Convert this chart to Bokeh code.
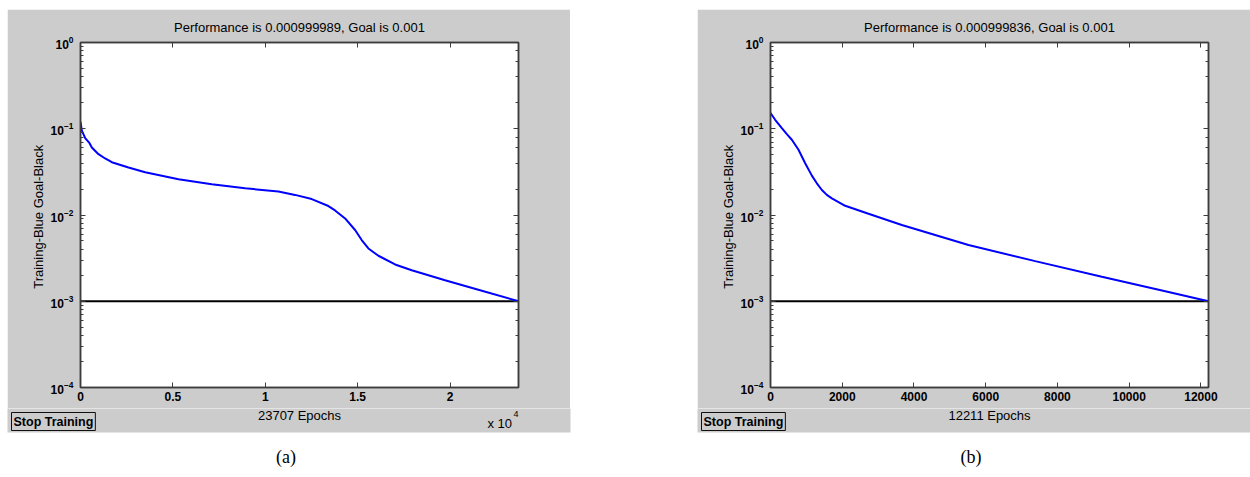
from bokeh.plotting import figure
from bokeh.models import LinearAxis, LogAxis, FixedTicker, Label, Spacer, Range1d
from bokeh.layouts import row, column
from bokeh.embed import file_html
from bokeh.resources import INLINE

# ---------------- data ----------------
# panel (a)
a_epochs = [0, 74, 254, 490, 613, 974, 1334, 1695, 2597, 3500, 5303, 7106, 8910,
            10712, 11614, 12516, 13418, 13778, 14321, 14862, 15220, 15583, 16124,
            17026, 17928, 19731, 21533, 23707]
a_perf = [0.12, 0.095, 0.078, 0.068, 0.0607, 0.0507, 0.0452, 0.0409, 0.0355, 0.0313,
          0.0259, 0.0227, 0.0204, 0.0187, 0.0171, 0.0153, 0.0127, 0.0113, 0.00912,
          0.0067, 0.00512, 0.00409, 0.00337, 0.00267, 0.00229, 0.00175, 0.00136,
          0.000999989]
a_total_epochs = 23707
a_title = "Performance is 0.000999989, Goal is 0.001"
a_xlabel = "23707 Epochs"
a_xticks = [0, 5000, 10000, 15000, 20000]
a_xticklabels = ["0", "0.5", "1", "1.5", "2"]

# panel (b)
b_epochs = [0, 130, 316, 455, 595, 781, 967, 1153, 1292, 1432, 1570, 1711, 2082,
            2732, 3661, 5520, 7379, 9237, 11096, 12211]
b_perf = [0.152, 0.127, 0.1017, 0.0865, 0.0745, 0.057, 0.0398, 0.0286, 0.0233,
          0.0195, 0.0171, 0.0156, 0.0128, 0.01035, 0.00766, 0.00448, 0.00292,
          0.00192, 0.00128, 0.000999836]
b_total_epochs = 12211
b_title = "Performance is 0.000999836, Goal is 0.001"
b_xlabel = "12211 Epochs"
b_xticks = [0, 2000, 4000, 6000, 8000, 10000, 12000]
b_xticklabels = ["0", "2000", "4000", "6000", "8000", "10000", "12000"]

goal = 0.001
y_label = "Training-Blue  Goal-Black"
button_text = "Stop Training"
panel_labels = ["(a)", "(b)"]

GRAY = "#cccccc"
AXC = "#3c3c3c"
FONT = "Liberation Sans"

# layout geometry (pixels)
PAGE_W = 1250
TOP_PAD, LEFT_PAD, GAP = 9, 7, 127
BL, FW, FH, BT, BB = 73, 438, 345, 33, 21
BR_A, BR_B = 52, 42
WA = BL + FW + BR_A
WB = BL + FW + BR_B
MAIN_BOTTOM = TOP_PAD + BT + FH + BB
STRIP_H = 24
BOTTOM_H = 64


def style_axis(ax, labels=True, minor=False, standoff=5):
    ax.axis_line_color = AXC
    ax.axis_line_width = 1.5
    ax.major_tick_line_color = AXC
    ax.major_tick_in = 5
    ax.major_tick_out = 0
    if minor:
        ax.minor_tick_line_color = AXC
        ax.minor_tick_in = 3
        ax.minor_tick_out = 0
    else:
        ax.minor_tick_line_color = None
    ax.major_label_text_font = FONT
    ax.major_label_text_font_style = "bold"
    if labels:
        ax.major_label_text_color = "black"
        ax.major_label_text_font_size = "12px"
        ax.major_label_standoff = standoff
    else:
        ax.major_label_text_color = None
        ax.major_label_text_font_size = "1px"
        ax.major_label_standoff = 0


def make_panel(xs, ys, xmax, xticks, xticklabels, title, right_b):
    p = figure(frame_width=FW, frame_height=FH, y_axis_type="log",
               x_range=Range1d(0, xmax), y_range=Range1d(1e-4, 1),
               output_backend="svg", toolbar_location=None,
               min_border_left=BL, min_border_right=right_b,
               min_border_top=BT, min_border_bottom=BB,
               title=title)
    p.border_fill_color = GRAY
    p.background_fill_color = "white"
    p.outline_line_color = AXC
    p.outline_line_width = 1.5
    p.xgrid.visible = False
    p.ygrid.visible = False

    p.title.text_font = FONT
    p.title.text_font_size = "13px"
    p.title.text_font_style = "normal"
    p.title.text_color = "black"
    p.title.align = "center"
    p.title.standoff = 15

    p.xaxis.ticker = FixedTicker(ticks=xticks)
    p.xaxis.major_label_overrides = {t: l for t, l in zip(xticks, xticklabels)}
    style_axis(p.xaxis[0], standoff=4)
    style_axis(p.yaxis[0], minor=True, standoff=7)
    p.yaxis.axis_label = y_label
    p.yaxis.axis_label_text_font = FONT
    p.yaxis.axis_label_text_font_size = "13px"
    p.yaxis.axis_label_text_font_style = "normal"
    p.yaxis.axis_label_text_color = "black"
    p.yaxis.axis_label_standoff = 2

    top = LinearAxis(ticker=FixedTicker(ticks=xticks))
    style_axis(top, labels=False)
    p.add_layout(top, "above")
    right = LogAxis()
    style_axis(right, labels=False, minor=True)
    p.add_layout(right, "right")

    p.line([0, xmax], [goal, goal], line_color="black", line_width=2)
    p.line(xs, ys, line_color="#0000ff", line_width=2)
    return p


pa = make_panel(a_epochs, a_perf, a_total_epochs, a_xticks, a_xticklabels, a_title, BR_A)
pb = make_panel(b_epochs, b_perf, b_total_epochs, b_xticks, b_xticklabels, b_title, BR_B)

# bottom figure: page-pixel coordinates (x left->right, y top->down)
y0 = MAIN_BOTTOM
bot = figure(width=PAGE_W, height=BOTTOM_H, x_range=Range1d(0, PAGE_W),
             y_range=Range1d(y0 + BOTTOM_H, y0),
             output_backend="svg", toolbar_location=None, min_border=0,
             x_axis_location=None, y_axis_location=None)
bot.outline_line_color = None
bot.xgrid.visible = False
bot.ygrid.visible = False

xa0 = LEFT_PAD
xb0 = LEFT_PAD + WA + GAP
bot.quad(left=[xa0, xb0], right=[xa0 + WA, xb0 + WB],
         top=[y0 - 3, y0 - 3], bottom=[y0 + STRIP_H, y0 + STRIP_H],
         fill_color=GRAY, line_color=None)

for x0, xl in zip([xa0, xb0], [a_xlabel, b_xlabel]):
    bot.add_layout(Label(x=x0 + BL + FW / 2, y=y0 + 7, text=xl, text_font=FONT,
                         text_font_size="13px", text_align="center",
                         text_baseline="middle", text_color="black"))
    bot.add_layout(Label(x=x0 + 4, y=y0 + 13, text=button_text, text_font=FONT,
                         text_font_style="bold", text_font_size="12.5px",
                         text_align="left", text_baseline="middle",
                         text_color="black",
                         background_fill_color=GRAY,
                         border_line_color="#101010", border_line_width=1,
                         padding=2))

bot.add_layout(Label(x=xa0 + 480, y=y0 + 15, text="x 10", text_font=FONT,
                     text_font_size="13px", text_align="left", text_baseline="middle",
                     text_color="black"))
bot.add_layout(Label(x=xa0 + 506, y=y0 + 5, text="4", text_font=FONT,
                     text_font_size="9px", text_align="left", text_baseline="middle",
                     text_color="black"))

for x0, w, t in zip([xa0, xb0], [WA, WB], panel_labels):
    bot.add_layout(Label(x=x0 + w / 2 - 3, y=y0 + 48, text=t,
                         text_font="Liberation Serif", text_font_size="18px",
                         text_align="center", text_baseline="middle",
                         text_color="black"))

layout = column(Spacer(width=10, height=TOP_PAD),
                row(Spacer(width=LEFT_PAD, height=10), pa, Spacer(width=GAP, height=10), pb),
                bot)

open("out.html", "w").write(file_html(layout, INLINE))
